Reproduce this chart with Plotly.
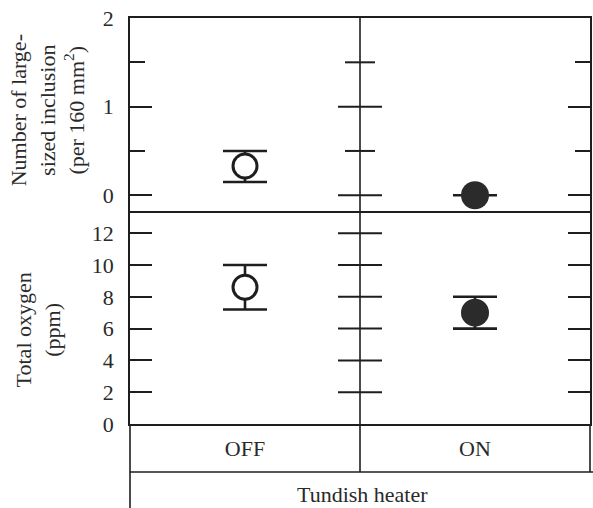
import plotly.graph_objects as go

# ---- data ----
categories = ["OFF", "ON"]
inclusion_mean = [0.33, 0.0]
inclusion_hi = [0.50, 0.0]
inclusion_lo = [0.15, 0.0]
oxygen_mean = [8.6, 7.0]
oxygen_hi = [10.0, 8.0]
oxygen_lo = [7.2, 6.0]
top_major_ticks = [0, 1, 2]
top_minor_ticks = [0.5, 1.5]
bottom_ticks = [0, 2, 4, 6, 8, 10, 12]
top_title = "Number of large-<br>sized inclusion<br>(per 160 mm<sup>2</sup>)"
bottom_title = "Total oxygen<br>(ppm)"
row_title = "Tundish heater"

# ---- geometry ----
W, H = 593, 508
ML, MR, MT, MB = 130, 1, 18, 84
plot_h = H - MT - MB
split = (H - MB - 213) / plot_h          # boundary between panels
row_y = -(472 - (H - MB)) / plot_h        # bottom of OFF/ON row
bottom_y = -(H - (H - MB)) / plot_h - 0.01

INK = "#1e1e1e"
FONT = dict(family="Liberation Serif, Times New Roman, serif", size=22, color="#2a2a2a")
LW = 1.6
MAJ, MIN = 22, 15

fig = go.Figure()

def err(mean, hi, lo):
    return dict(type="data", symmetric=False,
                array=[h - m for h, m in zip(hi, mean)],
                arrayminus=[m - l for m, l in zip(mean, lo)],
                color=INK, thickness=2.6, width=22)

marker_colors = ["white", "#2b2b2b"]
marker_sizes = [24, 28]
marker_lines = [3, 0]

for i, c in enumerate(categories):
    fig.add_trace(go.Scatter(
        x=[c], y=[inclusion_mean[i]], mode="markers",
        error_y=err([inclusion_mean[i]], [inclusion_hi[i]], [inclusion_lo[i]]),
        marker=dict(size=marker_sizes[i], color=marker_colors[i],
                    line=dict(color=INK, width=marker_lines[i])),
        xaxis="x", yaxis="y", showlegend=False, cliponaxis=False))
    fig.add_trace(go.Scatter(
        x=[c], y=[oxygen_mean[i]], mode="markers",
        error_y=err([oxygen_mean[i]], [oxygen_hi[i]], [oxygen_lo[i]]),
        marker=dict(size=marker_sizes[i], color=marker_colors[i],
                    line=dict(color=INK, width=marker_lines[i])),
        xaxis="x2", yaxis="y2", showlegend=False, cliponaxis=False))

xcommon = dict(type="category", categoryorder="array", categoryarray=categories,
               range=[-0.5, 1.5], showgrid=False, zeroline=False,
               showline=True, linecolor=INK, linewidth=LW)
fig.update_layout(
    xaxis=dict(**xcommon, anchor="y", side="top", mirror=False,
               showticklabels=False, ticks=""),
    xaxis2=dict(**xcommon, anchor="y2", mirror=True, showticklabels=True, ticks="",
                ticklabelstandoff=4, tickfont=FONT, matches="x"),
    yaxis=dict(domain=[split, 1], range=[-0.2, 2], tickvals=top_major_ticks,
               ticks="inside", ticklen=MAJ, tickwidth=2, tickcolor=INK,
               minor=dict(tickvals=top_minor_ticks, ticks="inside", ticklen=MIN,
                          tickwidth=2, tickcolor=INK),
               showline=True, linecolor=INK, linewidth=LW, mirror="allticks",
               showgrid=False, zeroline=False, tickfont=FONT,
               ticklabelstandoff=10, anchor="x"),
    yaxis2=dict(domain=[0, split], range=[0, 13.27], tickvals=bottom_ticks,
                ticks="inside", ticklen=MAJ, tickwidth=2, tickcolor=INK,
                showline=True, linecolor=INK, linewidth=LW, mirror="allticks",
                showgrid=False, zeroline=False, tickfont=FONT,
                ticklabelstandoff=10, anchor="x2"),
)

shapes = []
# middle divider and crossing ticks
shapes.append(dict(type="line", xref="x", x0=0.5, x1=0.5, yref="paper",
                   y0=row_y, y1=1, line=dict(color=INK, width=LW)))
for v in top_major_ticks[:-1]:
    shapes.append(dict(type="line", xref="x", xsizemode="pixel", xanchor=0.5,
                       x0=-MAJ, x1=MAJ, yref="y", y0=v, y1=v,
                       line=dict(color=INK, width=2)))
for v in top_minor_ticks:
    shapes.append(dict(type="line", xref="x", xsizemode="pixel", xanchor=0.5,
                       x0=-MIN, x1=MIN, yref="y", y0=v, y1=v,
                       line=dict(color=INK, width=2)))
for v in bottom_ticks[1:]:
    shapes.append(dict(type="line", xref="x2", xsizemode="pixel", xanchor=0.5,
                       x0=-MAJ, x1=MAJ, yref="y2", y0=v, y1=v,
                       line=dict(color=INK, width=2)))
# table rows below
shapes.append(dict(type="line", xref="paper", x0=0, x1=1.01, yref="paper",
                   y0=row_y, y1=row_y, line=dict(color=INK, width=LW)))
shapes.append(dict(type="line", xref="paper", x0=0, x1=0, yref="paper",
                   y0=bottom_y, y1=0, line=dict(color=INK, width=LW)))
shapes.append(dict(type="line", xref="paper", x0=1, x1=1, yref="paper",
                   y0=row_y, y1=0, line=dict(color=INK, width=LW)))

annotations = [
    dict(text=top_title, xref="paper", yref="paper", x=(47 - ML) / (W - ML - MR),
         y=((H - MB) - 110) / plot_h, textangle=-90, showarrow=False,
         xanchor="center", yanchor="middle", font=FONT, align="center"),
    dict(text=bottom_title, xref="paper", yref="paper", x=(38 - ML) / (W - ML - MR),
         y=((H - MB) - 330) / plot_h, textangle=-90, showarrow=False,
         xanchor="center", yanchor="middle", font=FONT, align="center"),
    dict(text=row_title, xref="paper", yref="paper", x=0.505,
         y=((H - MB) - 494) / plot_h, showarrow=False,
         xanchor="center", yanchor="middle", font=FONT),
]

fig.update_layout(
    width=W, height=H, margin=dict(l=ML, r=MR, t=MT, b=MB),
    paper_bgcolor="white", plot_bgcolor="white",
    shapes=shapes, annotations=annotations, font=FONT,
)

fig.write_html("out.html")
